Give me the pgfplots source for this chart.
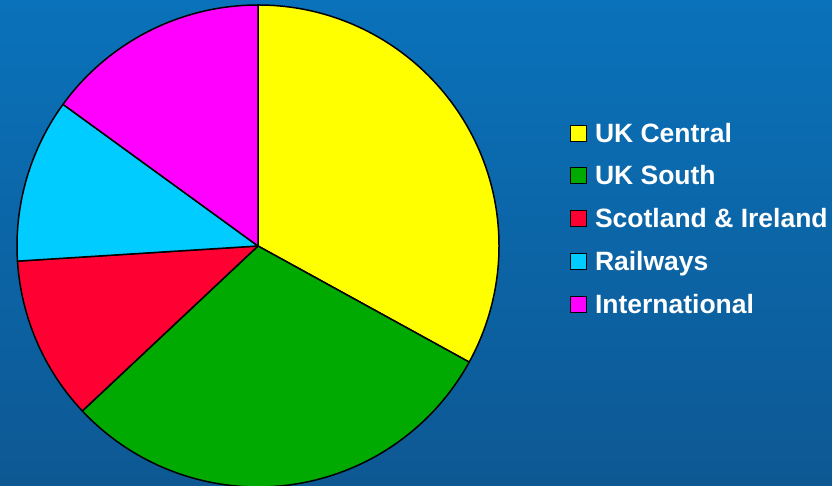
\documentclass[border=0pt]{standalone}
\usepackage{pgfplots}
\pgfplotsset{compat=1.18}
\usepackage{pgfplotstable}
\usepackage{fontspec}
\setmainfont{Liberation Sans}
\definecolor{pyellow}{HTML}{FFFF00}
\definecolor{pgreen}{HTML}{00AA00}
\definecolor{pred}{HTML}{FF0033}
\definecolor{pcyan}{HTML}{00CCFF}
\definecolor{pmag}{HTML}{FF00FF}
\definecolor{bgtop}{HTML}{0A72BA}
\definecolor{bgbot}{HTML}{0D5893}

\pgfplotstableread{
value color
33 pyellow
30 pgreen
11 pred
11 pcyan
15 pmag
}\piedata

\begin{document}
\begin{tikzpicture}[x=1pt,y=1pt]
\useasboundingbox (0,0) rectangle (832,486);
\shade[top color=bgtop, bottom color=bgbot] (0,0) rectangle (832,486);
\clip (0,0) rectangle (832,486);
\begin{axis}[
  at={(258pt,240pt)}, anchor=center,
  scale only axis, width=482pt, height=482pt,
  xmin=-1, xmax=1, ymin=-1, ymax=1,
  hide axis, clip=false,
  legend image code/.code={\draw[#1] (0pt,-8.5pt) rectangle (16pt,7.5pt);},
  legend cell align=left,
  legend style={
    at={(1.1473,0.7548)}, anchor=north west,
    draw=none, fill=none, inner sep=0pt, outer sep=0pt,
    font=\fontsize{26.5}{31}\selectfont\bfseries, text=white,
    row sep=23.8pt,
    nodes={inner sep=0pt, outer sep=0pt, text height=19pt, text depth=0pt},
    /tikz/every odd column/.append style={column sep=8pt},
  },
]
\pgfplotstablegetrowsof{\piedata}
\pgfmathtruncatemacro{\lastrow}{\pgfplotsretval-1}
\def\startangle{90}
\pgfplotsforeachungrouped \i in {0,...,\lastrow}{%
  \pgfplotstablegetelem{\i}{value}\of\piedata
  \pgfmathsetmacro{\endangle}{\startangle-3.6*\pgfplotsretval}
  \pgfplotstablegetelem{\i}{color}\of\piedata
  \edef\slicecolor{\pgfplotsretval}
  \edef\doslice{\noexpand\filldraw[fill=\slicecolor, draw=black, line width=1.5pt, line join=round] (axis cs:0,0) -- ++(\startangle:241pt) arc[start angle=\startangle, end angle=\endangle, radius=241pt] -- cycle;}
  \doslice
  \global\let\startangle\endangle
}
\addlegendimage{fill=pyellow, draw=black, line width=1pt}
\addlegendentry{UK Central}
\addlegendimage{fill=pgreen, draw=black, line width=1pt}
\addlegendentry{UK South}
\addlegendimage{fill=pred, draw=black, line width=1pt}
\addlegendentry{Scotland \& Ireland}
\addlegendimage{fill=pcyan, draw=black, line width=1pt}
\addlegendentry{Railways}
\addlegendimage{fill=pmag, draw=black, line width=1pt}
\addlegendentry{International}
\end{axis}
\end{tikzpicture}
\end{document}
